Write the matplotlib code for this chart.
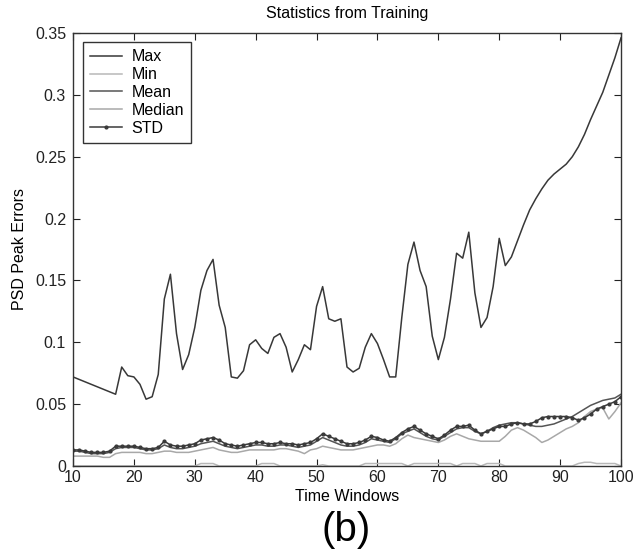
import numpy as np
import matplotlib
matplotlib.use("Agg")
import matplotlib.pyplot as plt

plt.rcParams['font.family'] = ['Liberation Sans', 'DejaVu Sans']

# Time windows shared by the lower statistics
windows = list(range(10, 101))

# Max curve (straight segment between window 10 and 17)
max_windows = [10] + list(range(17, 101))
max_err = [
    0.072,
    0.058, 0.080, 0.073, 0.072, 0.066, 0.054, 0.056, 0.074, 0.135, 0.155,
    0.107, 0.078, 0.090, 0.112, 0.142, 0.158, 0.167, 0.130, 0.112, 0.072,
    0.071, 0.077, 0.098, 0.102, 0.095, 0.091, 0.104, 0.107, 0.096, 0.076,
    0.086, 0.098, 0.094, 0.129, 0.145, 0.119, 0.117, 0.119, 0.080, 0.076,
    0.079, 0.096, 0.107, 0.099, 0.086, 0.072, 0.072, 0.120, 0.163, 0.181,
    0.158, 0.145, 0.105, 0.086, 0.104, 0.135, 0.172, 0.168, 0.189, 0.140,
    0.112, 0.120, 0.145, 0.184, 0.162, 0.169, 0.182, 0.195, 0.207, 0.216,
    0.224, 0.231, 0.236, 0.240, 0.244, 0.250, 0.258, 0.268, 0.280, 0.291,
    0.302, 0.316, 0.330, 0.346,
]

min_err = [
    0, 0, 0, 0, 0, 0, 0, 0, 0, 0,
    0, 0, 0, 0, 0, 0, 0, 0, 0, 0,
    0, 0.002, 0.002, 0.002, 0, 0, 0, 0, 0, 0,
    0, 0.002, 0.002, 0.002, 0, 0, 0, 0, 0, 0,
    0, 0.001, 0, 0, 0, 0, 0, 0, 0.002, 0.002,
    0.002, 0.002, 0.002, 0.002, 0.002, 0, 0.002, 0.002, 0.002, 0.002,
    0.002, 0.002, 0.002, 0, 0.002, 0.002, 0.002, 0, 0.002, 0.002,
    0.002, 0, 0, 0, 0, 0, 0, 0, 0, 0,
    0, 0, 0, 0.002, 0.003, 0.003, 0.002, 0.002, 0.002, 0.002,
    0,
]

mean_err = [
    0.012, 0.012, 0.011, 0.010, 0.010, 0.010, 0.011, 0.014, 0.015, 0.015,
    0.015, 0.014, 0.013, 0.013, 0.014, 0.017, 0.015, 0.014, 0.014, 0.015,
    0.016, 0.018, 0.019, 0.020, 0.018, 0.016, 0.015, 0.014, 0.015, 0.016,
    0.017, 0.017, 0.016, 0.016, 0.017, 0.017, 0.016, 0.015, 0.016, 0.017,
    0.020, 0.023, 0.021, 0.019, 0.017, 0.016, 0.016, 0.017, 0.019, 0.022,
    0.021, 0.020, 0.019, 0.022, 0.026, 0.028, 0.030, 0.027, 0.024, 0.022,
    0.021, 0.024, 0.027, 0.030, 0.031, 0.031, 0.028, 0.026, 0.028, 0.031,
    0.033, 0.034, 0.035, 0.035, 0.034, 0.033, 0.032, 0.032, 0.033, 0.034,
    0.036, 0.038, 0.040, 0.043, 0.046, 0.049, 0.051, 0.053, 0.054, 0.055,
    0.058,
]

median_err = [
    0.008, 0.008, 0.008, 0.008, 0.008, 0.007, 0.007, 0.010, 0.011, 0.011,
    0.011, 0.011, 0.010, 0.010, 0.011, 0.012, 0.012, 0.011, 0.011, 0.011,
    0.012, 0.013, 0.014, 0.015, 0.013, 0.012, 0.011, 0.011, 0.012, 0.013,
    0.013, 0.013, 0.013, 0.013, 0.014, 0.014, 0.013, 0.012, 0.010, 0.013,
    0.014, 0.016, 0.015, 0.014, 0.013, 0.013, 0.013, 0.014, 0.015, 0.016,
    0.017, 0.017, 0.016, 0.018, 0.022, 0.025, 0.023, 0.022, 0.021, 0.020,
    0.019, 0.021, 0.024, 0.026, 0.024, 0.022, 0.021, 0.020, 0.020, 0.020,
    0.020, 0.024, 0.029, 0.031, 0.029, 0.026, 0.023, 0.019, 0.021, 0.024,
    0.027, 0.030, 0.032, 0.035, 0.040, 0.044, 0.046, 0.047, 0.038, 0.044,
    0.051,
]

std_err = [
    0.013, 0.013, 0.012, 0.011, 0.011, 0.011, 0.012, 0.016, 0.016, 0.016,
    0.016, 0.015, 0.014, 0.014, 0.015, 0.020, 0.017, 0.016, 0.016, 0.017,
    0.018, 0.021, 0.022, 0.023, 0.021, 0.018, 0.017, 0.016, 0.017, 0.018,
    0.019, 0.019, 0.018, 0.018, 0.019, 0.018, 0.018, 0.017, 0.018, 0.019,
    0.022, 0.026, 0.024, 0.022, 0.020, 0.018, 0.018, 0.019, 0.021, 0.024,
    0.023, 0.021, 0.020, 0.023, 0.027, 0.030, 0.032, 0.029, 0.026, 0.024,
    0.022, 0.025, 0.029, 0.032, 0.032, 0.033, 0.029, 0.026, 0.028, 0.030,
    0.032, 0.032, 0.034, 0.035, 0.034, 0.034, 0.036, 0.039, 0.040, 0.040,
    0.040, 0.040, 0.039, 0.037, 0.039, 0.042, 0.046, 0.048, 0.050, 0.052,
    0.056,
]

x_ticks = [10, 20, 30, 40, 50, 60, 70, 80, 90, 100]
y_ticks = [0, 0.05, 0.1, 0.15, 0.2, 0.25, 0.3, 0.35]
y_tick_labels = ["0", "0.05", "0.1", "0.15", "0.2", "0.25", "0.3", "0.35"]

fig = plt.figure(figsize=(6.43, 5.59), dpi=100)
ax = fig.add_axes([73 / 643, 93 / 559, 548 / 643, 433 / 559])

ax.plot(max_windows, max_err, color="#383838", lw=1.1, label="Max")
ax.plot(windows, min_err, color="#b8b8b8", lw=1.1, label="Min")
ax.plot(windows, mean_err, color="#555555", lw=1.1, label="Mean")
ax.plot(windows, median_err, color="#a8a8a8", lw=1.1, label="Median")
ax.plot(windows, std_err, color="#3a3a3a", lw=1.1, marker="o",
        markersize=2.0, label="STD")

ax.set_xlim(10, 100)
ax.set_ylim(0, 0.35)
ax.set_xticks(x_ticks)
ax.set_yticks(y_ticks)
ax.set_yticklabels(y_tick_labels)
ax.tick_params(direction="in", length=5, width=0.8, top=True, right=True,
               labelsize=11.5, pad=5, colors="#222222")
ax.tick_params(axis="x", pad=3)
for sp in ax.spines.values():
    sp.set_linewidth(1.0)
    sp.set_color("#333333")

ax.set_title("Statistics from Training", fontsize=11.5, pad=11)
ax.set_xlabel("Time Windows", fontsize=11.5, labelpad=3)
ax.set_ylabel("PSD Peak Errors", fontsize=11.5, labelpad=6)

leg = ax.legend(loc="upper left", bbox_to_anchor=(0.018, 0.979),
                borderaxespad=0, fontsize=11.5, fancybox=False,
                framealpha=1, edgecolor="#333333", handlelength=2.0,
                handletextpad=0.6, labelspacing=0.18, borderpad=0.45)
leg.get_frame().set_linewidth(1.0)

fig.text(346 / 643, 1 - 530 / 559, "(b)", fontsize=29, ha="center",
         va="center")

fig.savefig("out.png", dpi=100)
